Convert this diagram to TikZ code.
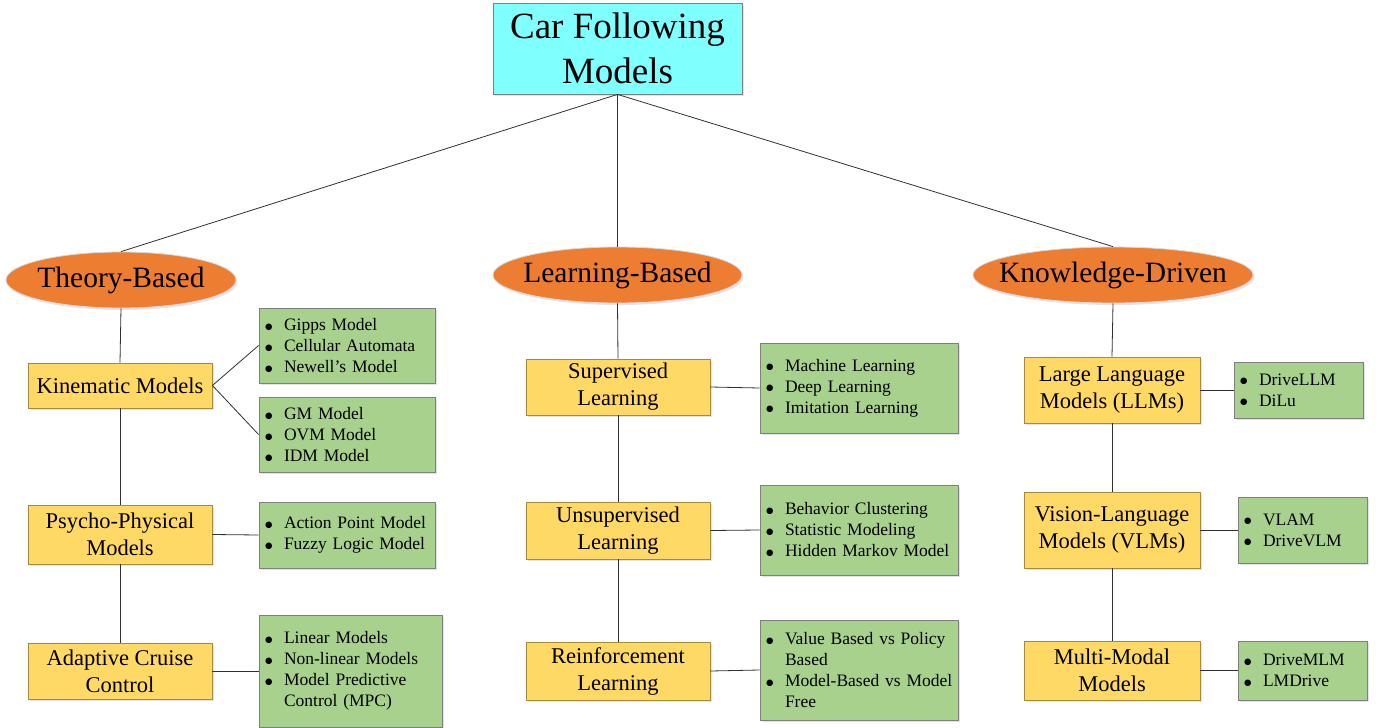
\documentclass[tikz,border=0pt]{standalone}
\usepackage{fontspec}
\setmainfont{Liberation Serif}
\newfontfamily\symfnt{DejaVu Sans}
\usetikzlibrary{shapes.geometric,shadows}
\definecolor{topcyan}{HTML}{80FFFF}
\definecolor{ovorange}{HTML}{ED7D31}
\definecolor{ovborder}{HTML}{D9D9D9}
\definecolor{ylwfill}{HTML}{FFD966}
\definecolor{ylwborder}{HTML}{A68B3A}
\definecolor{grnfill}{HTML}{A9D18E}
\definecolor{grnborder}{HTML}{7F7F7F}
\definecolor{lnclr}{HTML}{303030}
\newcommand{\itm}[1]{\makebox[21pt][l]{\hspace{2pt}\raisebox{1.4pt}{\symfnt\fontsize{8.5}{8.5}\selectfont ●}}#1}
\newcommand{\cnt}[1]{\hspace*{21pt}#1}
\tikzset{
  shd/.style={drop shadow={shadow xshift=1.5pt,shadow yshift=-2pt,opacity=0.18,fill=blue!30!gray}},
  topbox/.style={draw=grnborder,fill=topcyan,line width=0.8pt,inner sep=0pt,align=center,
    font=\fontsize{37}{45}\selectfont,shd},
  ovl/.style={ellipse,draw=ovborder,fill=ovorange,line width=0.8pt,inner sep=0pt,
    font=\fontsize{29.5}{34}\selectfont,shd},
  ybox/.style={draw=ylwborder,fill=ylwfill,line width=0.8pt,inner sep=0pt,align=center,
    font=\fontsize{22.5}{27}\selectfont,shd},
  gbox/.style={draw=grnborder,fill=grnfill,line width=0.8pt,inner xsep=4pt,inner ysep=0pt,align=left,
    font=\fontsize{17.5}{21}\selectfont,shd},
  conn/.style={draw=lnclr,line width=0.8pt}
}
\begin{document}
\begin{tikzpicture}[x=1pt,y=-1pt]
\useasboundingbox (0,0) rectangle (1379,728);
% top
\node[topbox,minimum width=249pt,minimum height=91pt] (top) at (617.5,48.5) {Car Following\\Models};
% ellipses
\node[ovl,minimum width=230pt,minimum height=56pt] (tb) at (121,280) {\makebox[0pt]{Theory-Based}};
\node[ovl,minimum width=249pt,minimum height=56pt] (lb) at (617.5,275) {\makebox[0pt]{Learning-Based}};
\node[ovl,minimum width=280pt,minimum height=56pt] (kd) at (1113,275) {\makebox[0pt]{Knowledge-Driven}};
% left column
\node[ybox,minimum width=184pt,minimum height=45pt] (kin) at (120,385.5) {Kinematic Models};
\node[ybox,minimum width=184pt,minimum height=59pt] (psy) at (120,534.5) {Psycho-Physical\\Models};
\node[ybox,minimum width=184pt,minimum height=56pt] (acc) at (120,671) {Adaptive Cruise\\Control};
\node[gbox,minimum width=176pt,minimum height=75pt,text width=168pt] (gk1) at (347,345.5)
  {\itm{Gipps Model}\\\itm{Cellular Automata}\\\itm{Newell’s Model}};
\node[gbox,minimum width=176pt,minimum height=75pt,text width=168pt] (gk2) at (347,434.5)
  {\itm{GM Model}\\\itm{OVM Model}\\\itm{IDM Model}};
\node[gbox,minimum width=176pt,minimum height=66pt,text width=168pt] (gpsy) at (347,535)
  {\itm{Action Point Model}\\\itm{Fuzzy Logic Model}};
\node[gbox,minimum width=183pt,minimum height=112pt,text width=175pt] (gacc) at (350.5,671)
  {\itm{Linear Models}\\\itm{Non-linear Models}\\\itm{Model Predictive}\\\cnt{Control (MPC)}};
% middle column
\node[ybox,minimum width=184pt,minimum height=56pt] (sup) at (618,387) {Supervised\\Learning};
\node[ybox,minimum width=184pt,minimum height=57pt] (uns) at (618,530.5) {Unsupervised\\Learning};
\node[ybox,minimum width=184pt,minimum height=58pt] (rl) at (618,671) {Reinforcement\\Learning};
\node[gbox,minimum width=198pt,minimum height=90pt,text width=190pt] (gsup) at (859,388)
  {\itm{Machine Learning}\\\itm{Deep Learning}\\\itm{Imitation Learning}};
\node[gbox,minimum width=198pt,minimum height=90pt,text width=190pt] (guns) at (859,530)
  {\itm{Behavior Clustering}\\\itm{Statistic Modeling}\\\itm{Hidden Markov Model}};
\node[gbox,minimum width=198pt,minimum height=100pt,text width=190pt] (grl) at (859,670)
  {\itm{Value Based vs Policy}\\\cnt{Based}\\\itm{Model-Based vs Model}\\\cnt{Free}};
% right column
\node[ybox,minimum width=176pt,minimum height=66pt] (llm) at (1112,390) {Large Language\\Models (LLMs)};
\node[ybox,minimum width=176pt,minimum height=76pt] (vlm) at (1112,530) {Vision-Language\\Models (VLMs)};
\node[ybox,minimum width=176pt,minimum height=59pt] (mm) at (1112,670.5) {Multi-Modal\\Models};
\node[gbox,minimum width=129pt,minimum height=56pt,text width=121pt] (gllm) at (1298.5,390)
  {\itm{DriveLLM}\\\itm{DiLu}};
\node[gbox,minimum width=129pt,minimum height=66pt,text width=121pt] (gvlm) at (1302.5,530)
  {\itm{VLAM}\\\itm{DriveVLM}};
\node[gbox,minimum width=129pt,minimum height=59pt,text width=121pt] (gmm) at (1302.5,670.5)
  {\itm{DriveMLM}\\\itm{LMDrive}};
% connectors
\draw[conn] (top.south) -- (tb.north);
\draw[conn] (top.south) -- (lb.north);
\draw[conn] (top.south) -- (kd.north);
\draw[conn] (tb.south) -- (kin.north);
\draw[conn] (kin.south) -- (psy.north);
\draw[conn] (psy.south) -- (acc.north);
\draw[conn] (kin.east) -- (gk1.west);
\draw[conn] (kin.east) -- (gk2.west);
\draw[conn] (psy.east) -- (gpsy.west);
\draw[conn] (acc.east) -- (gacc.west);
\draw[conn] (lb.south) -- (sup.north);
\draw[conn] (sup.south) -- (uns.north);
\draw[conn] (uns.south) -- (rl.north);
\draw[conn] (sup.east) -- (gsup.west);
\draw[conn] (uns.east) -- (guns.west);
\draw[conn] (rl.east) -- (grl.west);
\draw[conn] (kd.south) -- (llm.north);
\draw[conn] (llm.south) -- (vlm.north);
\draw[conn] (vlm.south) -- (mm.north);
\draw[conn] (llm.east) -- (gllm.west);
\draw[conn] (vlm.east) -- (gvlm.west);
\draw[conn] (mm.east) -- (gmm.west);
\end{tikzpicture}
\end{document}
